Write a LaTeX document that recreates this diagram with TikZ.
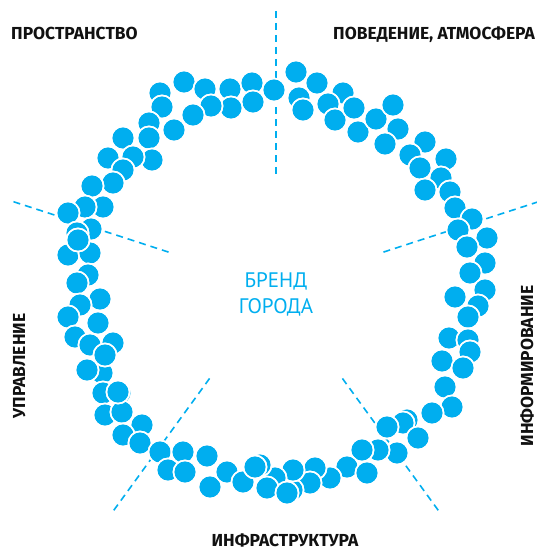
\documentclass[tikz,border=0pt]{standalone}
\usepackage{fontspec}
\setmainfont{PT Sans}
\newfontfamily\labelfont{Fira Sans}
\usetikzlibrary{calc}
\definecolor{brandcyan}{HTML}{00AEEF}
\definecolor{labelblack}{HTML}{111111}
\tikzset{
  bead/.style={fill=brandcyan, draw=white, line width=1.5pt},
  ray/.style={brandcyan, line width=1.6pt, dash pattern=on 7pt off 5pt},
  sidelabel/.style={inner sep=0pt, text=labelblack, font=\labelfont\fontsize{17.4}{19}\selectfont\bfseries},
  centerlabel/.style={inner sep=0pt, text=brandcyan, font=\fontsize{21}{24}\selectfont}
}
\begin{document}
\begin{tikzpicture}[x=1pt,y=-1pt]
\useasboundingbox (0,0) rectangle (537,551);
% centre and rays
\coordinate (c) at (276,287);
\foreach \a [count=\i] in {90,162,234,306,18}{
  \coordinate (in\i) at ($(c)+(\a:112pt)$);
  \coordinate (out\i) at ($(c)+(\a:276pt)$);
  \draw[ray] (out\i) -- (in\i);
}
% beads
\foreach \x/\y in {
184/82,160/93,205/89,230/89,252/83,274/90,253/102,231/108,211/106,193/115,
174/130,162/107,149/123,149/138,123/138,152/160,133/157,108/158,123/170,113/183,
92/186,103/207,85/207,68/213,91/229,77/233,68/255,90/253,
296/72,317/83,299/98,303/110,343/93,328/104,335/120,354/108,358/132,376/119,
393/105,398/129,385/144,425/142,410/155,420/168,446/159,441/178,425/190,450/192,
455/208,472/219,458/230,487/238,467/247,
485/263,470/273,485/290,455/297,478/306,468/317,449/338,468/340,470/352,442/361,
463/368,445/387,452/407,432/413,407/420,
403/423,387/427,418/438,397/453,378/450,362/450,347/467,367/473,330/478,315/468,
310/483,292/490,293/470,275/478,267/488,260/465,
102/373,103/393,120/393,105/415,122/412,142/425,123/435,140/443,160/452,183/452,
207/456,168/470,185/472,210/487,227/472,243/482,255/467,287/493,
78/240,88/275,77/283,100/299,80/305,68/317,98/323,75/337,113/343,90/345,
105/355,87/370,118/392}{
  \fill[bead] (\x,\y) circle[radius=11.6pt];
  \draw[bead, fill=none] (\x,\y) circle[radius=11.6pt];
}
% labels
\node[centerlabel, anchor=base] (brand1) at (276,287) {БРЕНД};
\node[centerlabel, anchor=base] (brand2) at (276,313) {ГОРОДА};
\node[sidelabel, anchor=base west] (space) at (11,40) {ПРОСТРАНСТВО};
\node[sidelabel, anchor=base east] (behav) at (535,40) {ПОВЕДЕНИЕ, АТМОСФЕРА};
\node[sidelabel, anchor=base] (infra) at (285,546) {ИНФРАСТРУКТУРА};
\node[sidelabel, anchor=base, rotate=90] (manage) at (25,366) {УПРАВЛЕНИЕ};
\node[sidelabel, anchor=base, rotate=90] (inform) at (533,366) {ИНФОРМИРОВАНИЕ};
\end{tikzpicture}
\end{document}
